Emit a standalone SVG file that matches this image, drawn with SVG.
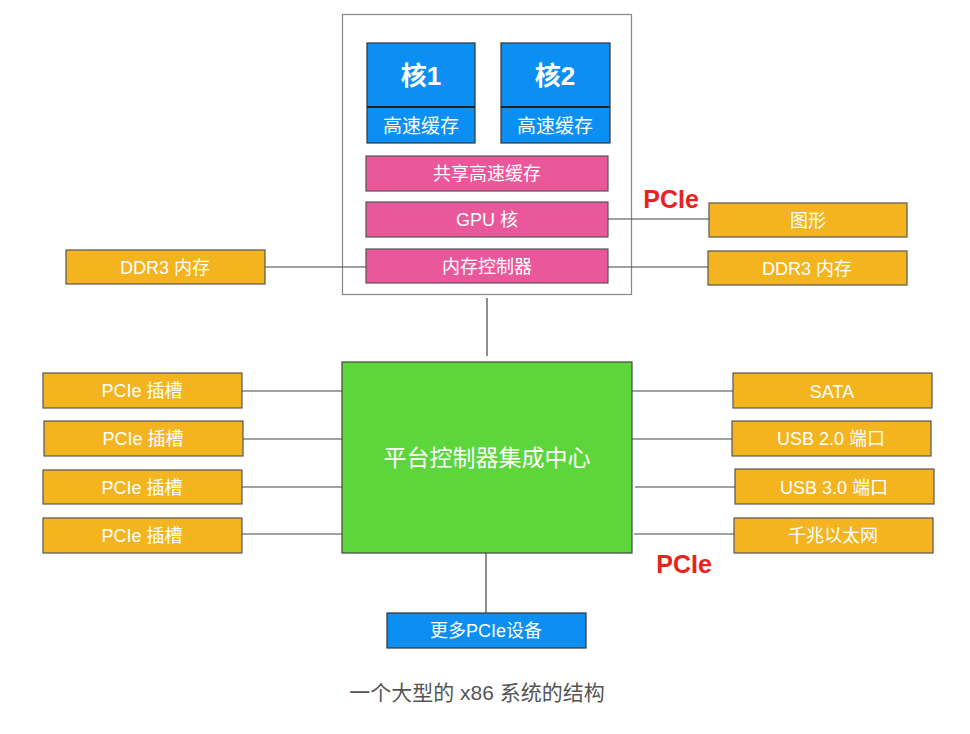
<svg xmlns="http://www.w3.org/2000/svg" width="970" height="734" viewBox="0 0 970 734">
<style>
text{font-family:"Liberation Sans","Noto Sans CJK SC",sans-serif;fill:#fff;text-anchor:middle;dominant-baseline:central}
.blue{fill:#0b8ff2;stroke:#333;stroke-width:1.2}
.pink{fill:#e9589b;stroke:#555;stroke-width:1.2}
.org{fill:#f3b420;stroke:#555;stroke-width:1.2}
.grn{fill:#5cd63a;stroke:#444;stroke-width:1.2}
.t16{font-size:18px}
.red{fill:#e8231f;font-size:25px;font-weight:bold}
.ln{stroke:#444;stroke-width:1.2;fill:none}
</style>
<rect width="970" height="734" fill="#fff"/>
<g id="cpu"><rect x="342.500" y="14.500" width="289" height="280" fill="#fff" stroke="#888" stroke-width="1.2"/></g>
<g id="core1"><rect class="blue" x="367" y="43" width="108" height="100"/><line x1="367" y1="107" x2="475" y2="107" stroke="#222" stroke-width="2"/><text x="421" y="76" style="font-size:26px;font-weight:bold">核1</text><text x="421" y="126" style="font-size:19px">高速缓存</text></g>
<g id="core2"><rect class="blue" x="501" y="43" width="109" height="100"/><line x1="501" y1="107" x2="610" y2="107" stroke="#222" stroke-width="2"/><text x="555" y="76" style="font-size:26px;font-weight:bold">核2</text><text x="555" y="126" style="font-size:19px">高速缓存</text></g>
<g id="shared"><rect class="pink" x="366" y="156" width="242" height="35"/><text class="t16" x="487" y="174">共享高速缓存</text></g>
<g id="gpu"><rect class="pink" x="366" y="202" width="242" height="35"/><text class="t16" x="487" y="220">GPU 核</text></g>
<g id="memctrl"><rect class="pink" x="366" y="249" width="242" height="34"/><text class="t16" x="487" y="267">内存控制器</text></g>
<g id="ddr3l"><rect class="org" x="66" y="250" width="199" height="34"/><text class="t16" x="165" y="268">DDR3 内存</text></g>
<g id="gfx"><rect class="org" x="709" y="203" width="198" height="34"/><text class="t16" x="808" y="221">图形</text></g>
<g id="ddr3r"><rect class="org" x="708" y="251" width="199" height="34"/><text class="t16" x="807" y="269">DDR3 内存</text></g>
<g id="pch"><rect class="grn" x="342" y="362" width="290" height="191"/><text x="487" y="458" style="font-size:23px">平台控制器集成中心</text></g>
<g id="slot1"><rect class="org" x="43" y="373" width="199" height="35"/><text class="t16" x="142" y="391">PCIe 插槽</text></g>
<g id="slot2"><rect class="org" x="44" y="421" width="199" height="35"/><text class="t16" x="143" y="439">PCIe 插槽</text></g>
<g id="slot3"><rect class="org" x="43" y="470" width="199" height="34"/><text class="t16" x="142" y="488">PCIe 插槽</text></g>
<g id="slot4"><rect class="org" x="43" y="518" width="199" height="35"/><text class="t16" x="142" y="536">PCIe 插槽</text></g>
<g id="sata"><rect class="org" x="733" y="373" width="199" height="35"/><text class="t16" x="832" y="392">SATA</text></g>
<g id="usb2"><rect class="org" x="732" y="421" width="199" height="35"/><text class="t16" x="831" y="439">USB 2.0 端口</text></g>
<g id="usb3"><rect class="org" x="735" y="469" width="199" height="35"/><text class="t16" x="834" y="488">USB 3.0 端口</text></g>
<g id="gbe"><rect class="org" x="734" y="518" width="199" height="35"/><text class="t16" x="833" y="536">千兆以太网</text></g>
<g id="more"><rect class="blue" x="387" y="613" width="199" height="35"/><text class="t16" x="486" y="631">更多PCIe设备</text></g>
<g id="labels">
<text class="red" x="671" y="199">PCIe</text>
<text class="red" x="684" y="564">PCIe</text>
<text x="477" y="692" style="font-size:21px;fill:#555">一个大型的 x86 系统的结构</text>
</g>
<g id="connectors">
<line class="ln" x1="608" y1="219" x2="709" y2="219"/>
<line class="ln" x1="265" y1="267" x2="366" y2="267"/>
<line class="ln" x1="608" y1="267" x2="708" y2="267"/>
<line class="ln" x1="487" y1="298" x2="487" y2="356" stroke-width="2"/>
<line class="ln" x1="242" y1="391" x2="342" y2="391"/>
<line class="ln" x1="243" y1="439" x2="342" y2="439"/>
<line class="ln" x1="242" y1="487" x2="342" y2="487"/>
<line class="ln" x1="242" y1="534" x2="342" y2="534"/>
<line class="ln" x1="632" y1="391" x2="733" y2="391"/>
<line class="ln" x1="632" y1="439" x2="732" y2="439"/>
<line class="ln" x1="635" y1="487" x2="735" y2="487"/>
<line class="ln" x1="634" y1="534" x2="734" y2="534"/>
<line class="ln" x1="486" y1="553" x2="486" y2="613" stroke-width="2"/>
</g>
</svg>
